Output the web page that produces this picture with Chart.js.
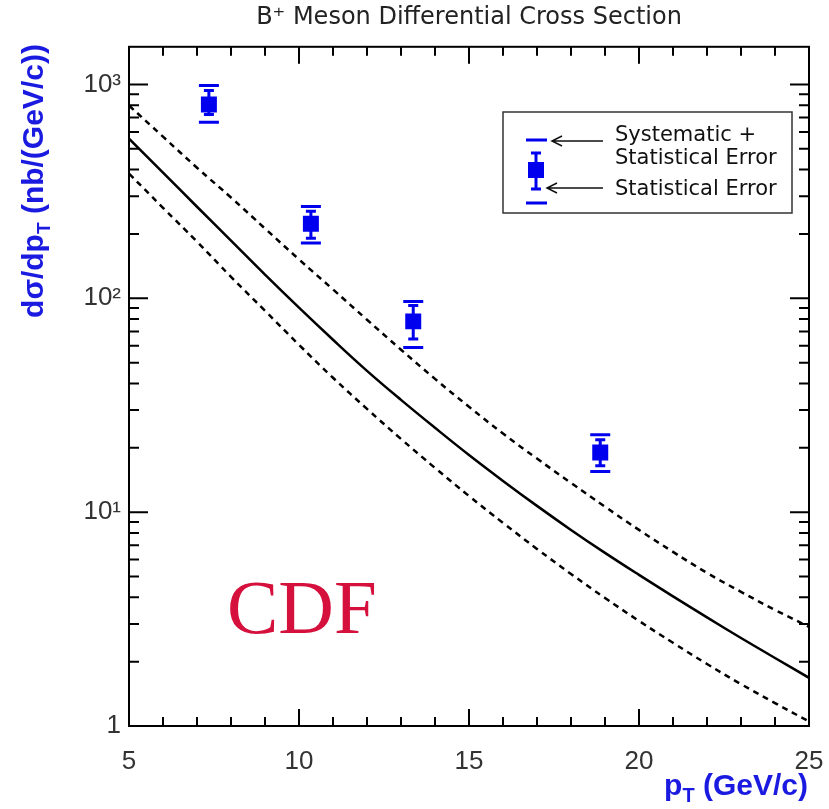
<!DOCTYPE html>
<html>
<head>
<meta charset="utf-8">
<script src="https://cdn.jsdelivr.net/npm/chart.js@4.4.0/dist/chart.umd.min.js"></script>
<style>
  body { margin: 0; background: #fff; }
  #wrap { width: 829px; height: 809px; }
</style>
</head>
<body>
<div id="wrap"><canvas id="chart" width="829" height="809"></canvas></div>
<script>
// measured points
const ptPoints = [7.35, 10.35, 13.36, 18.86];
const xsec = [805, 223, 78, 19.0];
const statLow = [723, 191, 64.5, 16.5];
const statHigh = [936, 255, 92.6, 21.8];
const systLow = [665, 181.5, 58.9, 15.5];
const systHigh = [988, 269, 96.7, 23.0];

// theory band
const ptTheory = [5, 6, 7, 8, 9, 10, 11, 12, 13, 14, 15, 16, 17, 18, 19, 20, 21, 22, 23, 24, 25];
const central = [558, 387, 268, 186, 129, 90.4, 64.0, 45.8, 33.5, 24.8, 18.5, 14.0, 10.7, 8.26, 6.45, 5.09, 4.04, 3.22, 2.58, 2.08, 1.68];
const upper = [797, 570, 408, 296, 212, 152, 110, 79.4, 57.5, 42.0, 31.1, 23.3, 17.8, 13.7, 10.6, 8.26, 6.52, 5.20, 4.24, 3.49, 2.91];
const lower = [383, 265, 184, 126, 87.5, 60.6, 42.5, 30.4, 22.0, 16.1, 11.9, 8.91, 6.73, 5.14, 3.97, 3.10, 2.45, 1.95, 1.57, 1.28, 1.05];

// axes
const xMajorTicks = [5, 10, 15, 20, 25];
const xMinorTicks = [6, 7, 8, 9, 11, 12, 13, 14, 16, 17, 18, 19, 21, 22, 23, 24];
const yMajorTicks = [1, 10, 100, 1000];
const yTickText = ['1', '10¹', '10²', '10³'];
const yMinorTicks = [2, 3, 4, 5, 6, 7, 8, 9, 20, 30, 40, 50, 60, 70, 80, 90, 200, 300, 400, 500, 600, 700, 800, 900];

const blue = '#0000ee';
const labelBlue = '#1a1ae0';
const tickFont = { family: 'Liberation Sans', size: 26 };

function toXY(xs, ys) {
    return xs.map((x, i) => ({ x: x, y: ys[i] }));
}

// frame with inward ticks on all four sides
const framePlugin = {
    id: 'frame',
    afterDraw(chart) {
        const { ctx, chartArea: { left, right, top, bottom }, scales: { x, y } } = chart;
        ctx.save();
        ctx.strokeStyle = '#000';
        ctx.lineWidth = 2;
        ctx.strokeRect(left, top, right - left, bottom - top);
        ctx.beginPath();
        xMajorTicks.concat(xMinorTicks).forEach(v => {
            const px = x.getPixelForValue(v);
            const len = xMajorTicks.includes(v) ? 17 : 9;
            ctx.moveTo(px, bottom); ctx.lineTo(px, bottom - len);
            ctx.moveTo(px, top); ctx.lineTo(px, top + len);
        });
        yMajorTicks.concat(yMinorTicks).forEach(v => {
            const py = y.getPixelForValue(v);
            const len = yMajorTicks.includes(v) ? 19 : 10;
            ctx.moveTo(left, py); ctx.lineTo(left + len, py);
            ctx.moveTo(right, py); ctx.lineTo(right - len, py);
        });
        ctx.stroke();
        ctx.restore();
    }
};

// error bars: stat bar with caps, syst as separate wide caps
const errorBarPlugin = {
    id: 'errorBars',
    afterDatasetsDraw(chart) {
        const { ctx, scales: { x, y } } = chart;
        ctx.save();
        ctx.strokeStyle = blue;
        ctx.lineWidth = 3;
        ptPoints.forEach((pt, i) => {
            const px = x.getPixelForValue(pt);
            const sLo = y.getPixelForValue(statLow[i]);
            const sHi = y.getPixelForValue(statHigh[i]);
            const yLo = y.getPixelForValue(systLow[i]);
            const yHi = y.getPixelForValue(systHigh[i]);
            ctx.beginPath();
            ctx.moveTo(px, sLo); ctx.lineTo(px, sHi);
            ctx.moveTo(px - 5, sLo); ctx.lineTo(px + 5, sLo);
            ctx.moveTo(px - 5, sHi); ctx.lineTo(px + 5, sHi);
            ctx.moveTo(px - 10, yLo); ctx.lineTo(px + 10, yLo);
            ctx.moveTo(px - 10, yHi); ctx.lineTo(px + 10, yHi);
            ctx.stroke();
        });
        ctx.restore();
    }
};

// legend box, axis titles and CDF label
const annotationPlugin = {
    id: 'annotations',
    afterDraw(chart) {
        const ctx = chart.ctx;
        ctx.save();

        // legend box
        ctx.strokeStyle = '#333';
        ctx.lineWidth = 1.5;
        ctx.strokeRect(503, 112, 289, 101);

        ctx.strokeStyle = blue;
        ctx.lineWidth = 3;
        ctx.beginPath();
        ctx.moveTo(526, 140); ctx.lineTo(547, 140);
        ctx.moveTo(526, 203); ctx.lineTo(547, 203);
        ctx.moveTo(531, 153); ctx.lineTo(541, 153);
        ctx.moveTo(531, 189); ctx.lineTo(541, 189);
        ctx.moveTo(536, 153); ctx.lineTo(536, 189);
        ctx.stroke();
        ctx.fillStyle = blue;
        ctx.fillRect(528, 162, 16, 16);

        // arrows
        ctx.strokeStyle = '#111';
        ctx.lineWidth = 1.5;
        ctx.beginPath();
        ctx.moveTo(603, 141); ctx.lineTo(552, 141);
        ctx.moveTo(562, 136); ctx.lineTo(552, 141); ctx.lineTo(562, 146);
        ctx.moveTo(603, 188); ctx.lineTo(547, 188);
        ctx.moveTo(557, 183); ctx.lineTo(547, 188); ctx.lineTo(557, 193);
        ctx.stroke();

        ctx.fillStyle = '#111';
        ctx.font = '21px "DejaVu Sans"';
        ctx.textBaseline = 'alphabetic';
        ctx.textAlign = 'left';
        ctx.fillText('Systematic +', 615, 141);
        ctx.fillText('Statistical Error', 615, 164);
        ctx.fillText('Statistical Error', 615, 195);

        // CDF
        ctx.fillStyle = '#d5103c';
        ctx.font = '77px "Liberation Serif"';
        ctx.fillText('CDF', 227, 633);

        // y title (rotated)
        ctx.fillStyle = labelBlue;
        const big = 'bold 30px "Liberation Sans"';
        const small = 'bold 19px "Liberation Sans"';
        const partA = 'dσ/dp', partB = 'T', partC = ' (nb/(GeV/c))';
        ctx.font = big; const wA = ctx.measureText(partA).width; const wC = ctx.measureText(partC).width;
        ctx.font = small; const wB = ctx.measureText(partB).width;
        const total = wA + wB + wC;
        ctx.translate(43, 181);
        ctx.rotate(-Math.PI / 2);
        let cx = -total / 2;
        ctx.font = big; ctx.fillText(partA, cx, 0); cx += wA;
        ctx.font = small; ctx.fillText(partB, cx, 7); cx += wB;
        ctx.font = big; ctx.fillText(partC, cx, 0);
        ctx.setTransform(1, 0, 0, 1, 0, 0);

        // x title
        const xA = 'p', xB = 'T', xC = ' (GeV/c)';
        const xbig = 'bold 30px "Liberation Sans"';
        const xsmall = 'bold 20px "Liberation Sans"';
        ctx.font = xbig; const xwA = ctx.measureText(xA).width; const xwC = ctx.measureText(xC).width;
        ctx.font = xsmall; const xwB = ctx.measureText(xB).width;
        let sx = 808 - (xwA + xwB + xwC);
        ctx.font = xbig; ctx.fillText(xA, sx, 795); sx += xwA;
        ctx.font = xsmall; ctx.fillText(xB, sx, 802); sx += xwB;
        ctx.font = xbig; ctx.fillText(xC, sx, 795);

        ctx.restore();
    }
};

new Chart(document.getElementById('chart'), {
    type: 'line',
    data: {
        datasets: [
            {
                label: 'Upper',
                data: toXY(ptTheory, upper),
                borderColor: '#000',
                borderWidth: 2.5,
                borderDash: [6, 5],
                pointRadius: 0,
                tension: 0.4,
                fill: false
            },
            {
                label: 'Central',
                data: toXY(ptTheory, central),
                borderColor: '#000',
                borderWidth: 2.5,
                pointRadius: 0,
                tension: 0.4,
                fill: false
            },
            {
                label: 'Lower',
                data: toXY(ptTheory, lower),
                borderColor: '#000',
                borderWidth: 2.5,
                borderDash: [6, 5],
                pointRadius: 0,
                tension: 0.4,
                fill: false
            },
            {
                label: 'CDF data',
                data: toXY(ptPoints, xsec),
                showLine: false,
                pointStyle: 'rect',
                pointRadius: 11.3,
                pointBackgroundColor: blue,
                pointBorderColor: blue,
                pointBorderWidth: 0
            }
        ]
    },
    options: {
        responsive: false,
        animation: false,
        layout: { padding: { top: 0, right: 20, left: 0, bottom: 0 } },
        plugins: {
            legend: { display: false },
            tooltip: { enabled: false },
            title: {
                display: true,
                fullSize: false,
                text: 'B⁺ Meson Differential Cross Section',
                color: '#222',
                font: { family: 'DejaVu Sans', size: 24, weight: 'normal' },
                padding: { top: 3, bottom: 15 }
            }
        },
        scales: {
            x: {
                type: 'linear',
                min: 5,
                max: 25,
                ticks: { stepSize: 5, font: tickFont, color: '#333', padding: 20, maxRotation: 0 },
                grid: { display: false, drawTicks: false },
                border: { display: false },
                afterFit: scale => {
                    scale.height = 83;
                    scale.paddingLeft = 0;
                    scale.paddingRight = 0;
                }
            },
            y: {
                type: 'logarithmic',
                min: 1,
                max: 1500,
                afterBuildTicks: scale => {
                    scale.ticks = yMajorTicks.map(v => ({ value: v }));
                },
                ticks: {
                    autoSkip: false,
                    font: tickFont,
                    color: '#333',
                    padding: 8,
                    callback: v => {
                        const i = yMajorTicks.indexOf(v);
                        return i >= 0 ? yTickText[i] : '';
                    }
                },
                grid: { display: false, drawTicks: false },
                border: { display: false },
                afterFit: scale => { scale.width = 129; }
            }
        }
    },
    plugins: [framePlugin, errorBarPlugin, annotationPlugin]
});
</script>
</body>
</html>
